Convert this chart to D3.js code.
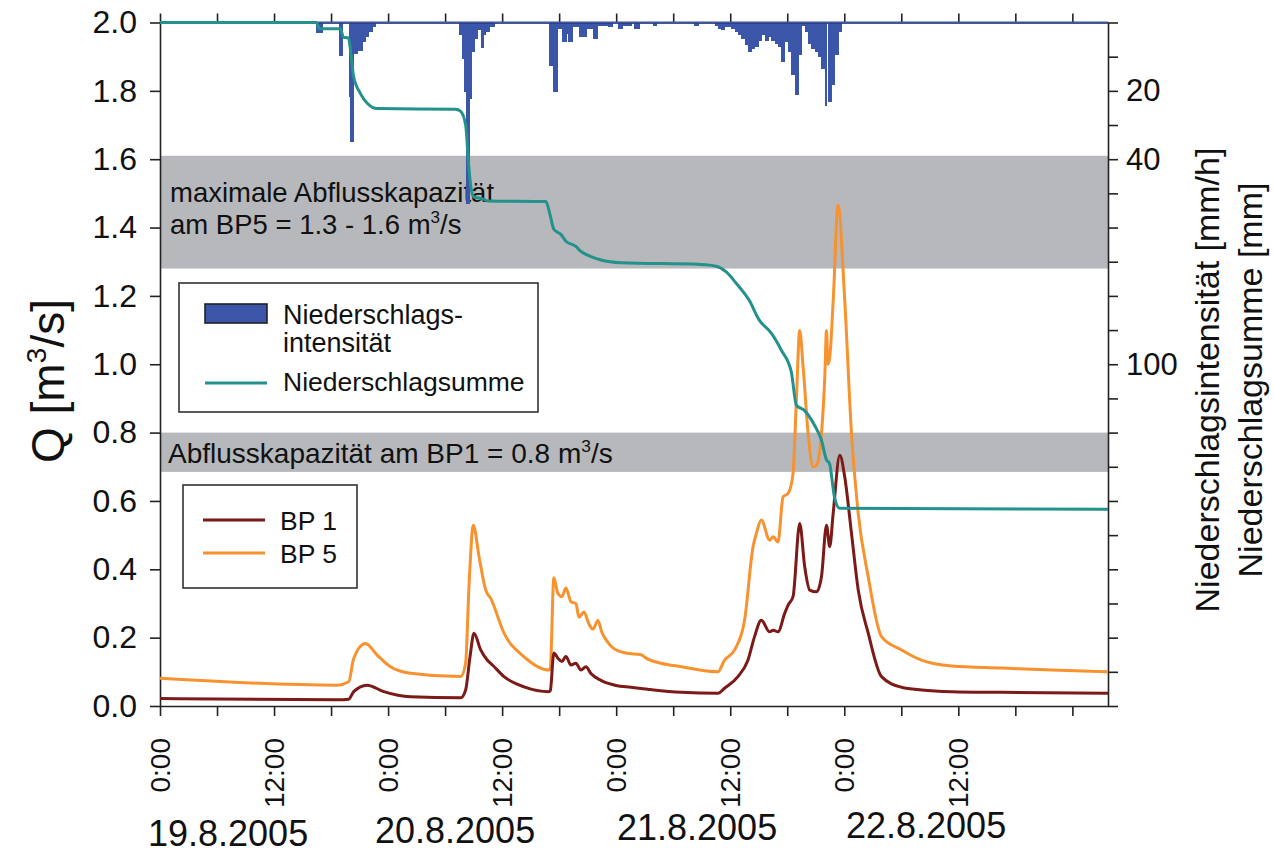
<!DOCTYPE html>
<html>
<head>
<meta charset="utf-8">
<script src="https://cdn.jsdelivr.net/npm/d3@7"></script>
<style>
  body { margin: 0; background: #fff; }
  svg { display: block; font-family: "Liberation Sans", Arial, sans-serif; }
</style>
</head>
<body>
<svg id="chart" width="1274" height="857"></svg>
<script>
// all times in hours after 19.8.2005 0:00

// precipitation intensity [mm/h], one bar from rainFrom[i] to rainTo[i]
const rainFrom = [16.45, 18.80, 19.86, 20.04, 20.32, 20.74, 21.27, 21.62, 21.97, 22.33,
	31.46, 31.82, 31.99, 32.24, 32.59, 32.77, 33.04, 33.40, 33.74, 34.03, 34.27, 34.62,
	40.95, 41.30, 41.83, 42.35, 42.75, 42.95, 43.41, 44.10, 44.82, 45.52, 46.05, 47.10, 48.16, 48.69, 49.91, 51.85, 56.24,
	58.35, 58.70, 59.05, 59.40, 59.76, 60.11, 60.46, 60.81, 61.16, 61.51, 61.87, 62.22, 62.57, 62.92, 63.27, 63.62,
	63.97, 64.33, 64.68, 65.03, 65.38, 65.73, 66.08, 66.44, 66.79, 67.14, 67.49, 67.84, 68.19, 68.55, 68.90, 69.25,
	69.60, 69.95, 70.30, 70.66, 71.01, 71.36];
const rainTo = [17.06, 19.16, 20.04, 20.32, 20.74, 21.27, 21.62, 21.97, 22.33, 22.68,
	31.82, 31.99, 32.24, 32.59, 32.77, 33.04, 33.40, 33.74, 34.03, 34.27, 34.62, 35.15,
	41.30, 41.83, 42.35, 42.75, 42.95, 43.41, 44.10, 44.82, 45.52, 46.05, 47.10, 47.63, 48.69, 49.56, 50.44, 52.20, 56.60,
	58.70, 59.05, 59.40, 59.76, 60.11, 60.46, 60.81, 61.16, 61.51, 61.87, 62.22, 62.57, 62.92, 63.27, 63.62, 63.97,
	64.33, 64.68, 65.03, 65.38, 65.73, 66.08, 66.44, 66.79, 67.14, 67.49, 67.84, 68.19, 68.55, 68.90, 69.25, 69.60,
	69.95, 70.13, 70.66, 71.01, 71.36, 71.71];
const rainMmh = [3.1, 9.9, 21.8, 35, 9.2, 8.2, 5.8, 4.3, 2.8, 1.2,
	3.8, 10.6, 20.4, 53, 22.3, 8.7, 4.8, 2.3, 7.5, 3.8, 2.8, 1.4,
	12.6, 20.4, 1.9, 5.8, 3.5, 5.8, 1.4, 4.3, 1.9, 4.8, 0.9, 1.4, 1.9, 0.9, 1.9, 1.0, 0.9,
	0.9, 1.9, 2.3, 1.4, 1.4, 1.9, 2.8, 3.8, 4.8, 6.7, 8.7, 7.7, 7.2, 5.3, 3.8, 5.3,
	4.3, 5.3, 6.2, 7.2, 11.6, 5.8, 8.7, 15.5, 21.3, 9.6, 0.9, 2.8, 6.2, 7.7, 8.7, 10.1,
	13.5, 24.3, 23.3, 18.4, 9.6, 2.8];

// cumulative precipitation [mm]
const sumHour = [0, 16.45, 16.77, 18.98, 19.3, 19.83, 20.04, 20.35, 21.09, 21.83,
	22.88, 31.1, 31.64, 32.16, 32.48, 32.69, 33.01, 33.95, 34.48, 40.6,
	41.02, 41.44, 42.18, 42.71, 43.76, 44.29, 45.34, 46.4, 48.51, 56.94,
	58.52, 59.58, 60.63, 62.0, 63.06, 64.32, 65.38, 66.43, 66.96, 67.8,
	68.86, 69.6, 70.13, 70.44, 70.97, 71.5, 99.75];
const sumMm = [0, 0, 1.8, 1.8, 4.3, 4.5, 8, 15.5, 20.8, 23.7,
	25.2, 25.4, 26, 30, 41.8, 47.7, 51, 51.6, 52.2, 52.4,
	56, 60.5, 62, 64, 65.5, 67, 68.5, 69.5, 70.3, 70.8,
	71.3, 73, 76.3, 81.3, 87.1, 90.9, 95.9, 102.3, 112, 113.5,
	117.8, 122.2, 128, 129, 138.9, 142.1, 142.4];

// discharge BP 1 [m3/s]
const bp1Hour = [0, 18.63, 19.86, 20.38, 21.79, 23.55, 26.36,
	31.64, 32.16, 32.62, 33.04, 33.74, 34.45, 34.98, 36.2, 38.31,
	40.95, 41.07, 41.44, 41.86, 42.29, 42.71, 43.24, 43.76, 44.29, 44.82,
	45.34, 46.4, 47.98, 49.56, 51.67, 54.84,
	58.7, 59.4, 60.81, 61.86, 62.56, 63.27, 64.15, 64.51, 65.03, 65.73,
	66.09, 66.61, 67.31, 67.84, 68.37, 69.08, 69.6, 70.13, 70.47, 70.83,
	71.53, 72.05, 72.76, 73.47, 74.52, 75.92, 78.03, 80.14, 83.31, 88.58, 99.75];
const bp1Q = [0.022, 0.018, 0.02, 0.042, 0.061, 0.042, 0.027,
	0.024, 0.047, 0.144, 0.213, 0.164, 0.134, 0.12, 0.086, 0.056,
	0.042, 0.045, 0.155, 0.14, 0.13, 0.145, 0.12, 0.125, 0.105, 0.115,
	0.095, 0.075, 0.06, 0.055, 0.048, 0.04,
	0.037, 0.052, 0.086, 0.134, 0.203, 0.251, 0.217, 0.222, 0.217, 0.271,
	0.295, 0.32, 0.534, 0.407, 0.339, 0.334, 0.378, 0.529, 0.466, 0.563,
	0.734, 0.67, 0.505, 0.339, 0.213, 0.086, 0.055, 0.047, 0.042, 0.04, 0.037];

// discharge BP 5 [m3/s]
const bp5Hour = [0, 18.63, 19.86, 20.38, 21.62, 22.85, 24.25, 26.36,
	31.64, 32.16, 32.51, 32.97, 33.57, 34.27, 34.8, 36.2, 38.31,
	40.95, 41.07, 41.44, 41.86, 42.29, 42.71, 43.24, 43.76, 44.08, 44.61,
	45.13, 45.56, 46.08, 46.5, 47.03, 47.66, 49.03, 50.62, 51.14, 52.73,
	54.84, 58.7, 59.4, 60.46, 61.51, 62.4, 62.75, 63.27, 64.15, 64.51,
	65.03, 65.56, 66.09, 66.61, 66.96, 67.31, 67.67, 68.2, 68.72, 69.08,
	69.6, 69.95, 70.13, 70.28, 70.47, 70.86, 71.34, 72.05, 72.76, 73.47,
	74.52, 75.92, 78.03, 80.14, 83.31, 88.58, 93.85, 99.75];
const bp5Q = [0.081, 0.061, 0.071, 0.139, 0.183, 0.149, 0.115, 0.096,
	0.086, 0.126, 0.349, 0.529, 0.437, 0.339, 0.315, 0.213, 0.144,
	0.105, 0.11, 0.375, 0.33, 0.32, 0.345, 0.305, 0.3, 0.26, 0.275,
	0.24, 0.225, 0.25, 0.215, 0.19, 0.17, 0.155, 0.15, 0.14, 0.125,
	0.115, 0.1, 0.134, 0.164, 0.251, 0.466, 0.505, 0.544, 0.485, 0.495,
	0.48, 0.612, 0.622, 0.68, 0.895, 1.099, 0.992, 0.797, 0.7, 0.705,
	0.797, 0.963, 1.099, 1.0, 1.02, 1.2, 1.465, 1.187, 0.797, 0.563,
	0.378, 0.203, 0.164, 0.134, 0.117, 0.111, 0.105, 0.1];

// capacity bands [m3/s]
const bandLow = [1.28, 0.685];
const bandHigh = [1.61, 0.80];

// ticks
const qTicks = d3.range(0, 11).map(i => i * 0.2);
const rainTicks = d3.range(0, 201, 10);
const rainLabels = [20, 40, 100];
const timeTicks = d3.range(0, 97, 6);
const timeLabelHours = d3.range(0, 85, 12);
const dayLabels = ['19.8.2005', '20.8.2005', '21.8.2005', '22.8.2005'];

const colors = {
	rain: '#3b55a8',
	sum: '#23918c',
	bp1: '#7c1a17',
	bp5: '#f7922f',
	band: '#b6b8bb',
	axis: '#222'
};

const svg = d3.select('#chart');

const x = d3.scaleLinear().domain([0, 99.75]).range([160, 1108]);
const yQ = d3.scaleLinear().domain([0, 2]).range([706, 22.5]);
const yR = d3.scaleLinear().domain([0, 200]).range([22.5, 706]);

// grey capacity bands
svg.append('g')
	.selectAll('rect')
	.data(bandLow)
	.join('rect')
	.attr('x', x(0))
	.attr('width', x(99.75) - x(0))
	.attr('y', (d, i) => yQ(bandHigh[i]))
	.attr('height', (d, i) => yQ(d) - yQ(bandHigh[i]))
	.attr('fill', colors.band);

// text with a raised "3"
function supText(sel, before, sup, after, shift) {
	sel.append('tspan').text(before);
	sel.append('tspan').attr('dy', -shift).attr('font-size', '0.62em').text(sup);
	sel.append('tspan').attr('dy', shift).text(after);
}

svg.append('text').attr('x', 170).attr('y', 202).attr('font-size', 27.5).attr('fill', '#111')
	.text('maximale Abflusskapazität');
supText(svg.append('text').attr('x', 170).attr('y', 234).attr('font-size', 27.5).attr('fill', '#111'),
	'am BP5 = 1.3 - 1.6 m', '3', '/s', 11);
supText(svg.append('text').attr('x', 168).attr('y', 463).attr('font-size', 28).attr('fill', '#111'),
	'Abflusskapazität am BP1 = 0.8 m', '3', '/s', 11);

// precipitation bars hanging from the top
svg.append('g')
	.attr('shape-rendering', 'crispEdges')
	.selectAll('rect')
	.data(rainMmh)
	.join('rect')
	.attr('x', (d, i) => x(rainFrom[i]))
	.attr('width', (d, i) => x(rainTo[i]) - x(rainFrom[i]) + 0.6)
	.attr('y', yR(0))
	.attr('height', d => yR(d) - yR(0))
	.attr('fill', colors.rain);

// axes
function styleAxis(g, fontSize) {
	g.select('.domain').attr('stroke', colors.axis).attr('stroke-width', 1.6);
	g.selectAll('.tick line').attr('stroke', colors.axis).attr('stroke-width', 1.6);
	g.selectAll('.tick text').attr('font-size', fontSize).attr('fill', '#111')
		.attr('font-family', '"Liberation Sans", Arial, sans-serif');
}

svg.append('g')
	.attr('transform', `translate(0,${yR(0)})`)
	.call(d3.axisTop(x).tickValues(timeTicks).tickFormat('').tickSize(9).tickSizeOuter(0))
	.call(g => styleAxis(g, 0));

svg.append('g')
	.attr('transform', `translate(0,${yQ(0)})`)
	.call(d3.axisBottom(x).tickValues(timeTicks).tickFormat('').tickSize(10).tickSizeOuter(0))
	.call(g => styleAxis(g, 0));

svg.append('g')
	.attr('transform', `translate(${x(0)},0)`)
	.call(d3.axisLeft(yQ).tickValues(qTicks).tickFormat(d3.format('.1f')).tickSize(10).tickPadding(13).tickSizeOuter(0))
	.call(g => styleAxis(g, 32));

svg.append('g')
	.attr('transform', `translate(${x(99.75)},0)`)
	.call(d3.axisRight(yR).tickValues(rainTicks)
		.tickFormat(d => rainLabels.includes(d) ? d : '').tickSize(10).tickPadding(8).tickSizeOuter(0))
	.call(g => styleAxis(g, 31));

// blue baseline of the precipitation bars
svg.append('line')
	.attr('x1', x(0)).attr('x2', x(99.75))
	.attr('y1', yR(0)).attr('y2', yR(0))
	.attr('stroke', colors.rain).attr('stroke-width', 2.2);

// lines
const lineQ = d3.line().x(d => x(d[0])).y(d => yQ(d[1])).curve(d3.curveMonotoneX);
const lineR = d3.line().x(d => x(d[0])).y(d => yR(d[1])).curve(d3.curveMonotoneX);

svg.append('path')
	.datum(d3.zip(bp5Hour, bp5Q))
	.attr('d', lineQ)
	.attr('fill', 'none').attr('stroke', colors.bp5).attr('stroke-width', 3);

svg.append('path')
	.datum(d3.zip(bp1Hour, bp1Q))
	.attr('d', lineQ)
	.attr('fill', 'none').attr('stroke', colors.bp1).attr('stroke-width', 3);

svg.append('path')
	.datum(d3.zip(sumHour, sumMm))
	.attr('d', lineR)
	.attr('fill', 'none').attr('stroke', colors.sum).attr('stroke-width', 3);

// time labels (rotated)
svg.append('g')
	.selectAll('text')
	.data(timeLabelHours)
	.join('text')
	.attr('transform', d => `translate(${x(d) + 10},738) rotate(-90)`)
	.attr('text-anchor', 'end')
	.attr('font-size', 28)
	.attr('fill', '#111')
	.text(d => (d % 24 === 0 ? '0:00' : '12:00'));

// day labels
const dayPos = [[148, 846], [375, 843], [617, 840], [846, 838]];
svg.append('g')
	.selectAll('text')
	.data(dayLabels)
	.join('text')
	.attr('x', (d, i) => dayPos[i][0])
	.attr('y', (d, i) => dayPos[i][1])
	.attr('font-size', 36)
	.attr('fill', '#111')
	.text(d => d);

// axis titles
supText(svg.append('text')
	.attr('transform', 'translate(64,381) rotate(-90)')
	.attr('text-anchor', 'middle')
	.attr('font-size', 46)
	.attr('fill', '#111'), 'Q [m', '3', '/s]', 18);

svg.append('text')
	.attr('transform', 'translate(1219,380) rotate(-90)')
	.attr('text-anchor', 'middle')
	.attr('font-size', 34)
	.attr('fill', '#111')
	.text('Niederschlagsintensität [mm/h]');

svg.append('text')
	.attr('transform', 'translate(1262,380) rotate(-90)')
	.attr('text-anchor', 'middle')
	.attr('font-size', 34)
	.attr('fill', '#111')
	.text('Niederschlagsumme [mm]');

// legend: precipitation
const leg1 = svg.append('g');
leg1.append('rect').attr('x', 179).attr('y', 283).attr('width', 359).attr('height', 129)
	.attr('fill', '#fff').attr('stroke', '#333').attr('stroke-width', 1.6);
leg1.append('rect').attr('x', 205).attr('y', 304).attr('width', 62).attr('height', 19)
	.attr('fill', colors.rain).attr('stroke', '#222').attr('stroke-width', 1.6);
leg1.append('text').attr('x', 283).attr('y', 324).attr('font-size', 27).attr('fill', '#111').text('Niederschlags-');
leg1.append('text').attr('x', 283).attr('y', 352).attr('font-size', 27).attr('fill', '#111').text('intensität');
leg1.append('line').attr('x1', 205).attr('x2', 267).attr('y1', 383).attr('y2', 383)
	.attr('stroke', colors.sum).attr('stroke-width', 3);
leg1.append('text').attr('x', 283).attr('y', 391).attr('font-size', 26.5).attr('fill', '#111').text('Niederschlagsumme');

// legend: gauges
const leg2 = svg.append('g');
leg2.append('rect').attr('x', 183).attr('y', 485).attr('width', 174).attr('height', 103)
	.attr('fill', '#fff').attr('stroke', '#333').attr('stroke-width', 1.6);
[['BP 1', colors.bp1, 520], ['BP 5', colors.bp5, 553]].forEach(([label, c, yy]) => {
	leg2.append('line').attr('x1', 203).attr('x2', 265).attr('y1', yy).attr('y2', yy)
		.attr('stroke', c).attr('stroke-width', 3);
	leg2.append('text').attr('x', 280).attr('y', yy + 10).attr('font-size', 26.5).attr('fill', '#111').text(label);
});
</script>
</body>
</html>
